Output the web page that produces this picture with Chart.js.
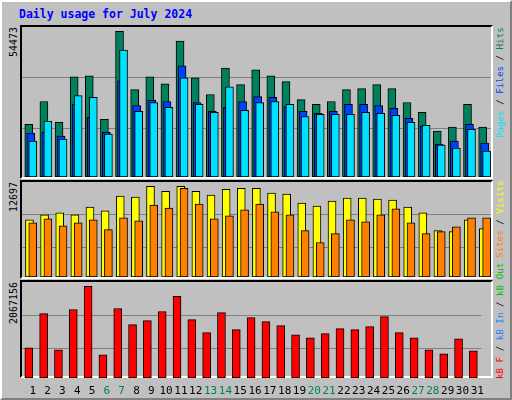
<!DOCTYPE html>
<html><head><meta charset="utf-8">
<script src="https://cdn.jsdelivr.net/npm/chart.js@4"></script>
<style>
body{margin:0;background:#fff}
#frame{position:absolute;left:0;top:0;width:508px;height:396px;background:#c0c0c0;border-left:2px solid #fff;border-top:2px solid #fff;border-right:2px solid #808080;border-bottom:2px solid #808080;}
.panel{position:absolute;left:20px;width:469px;border-top:2px solid #000;border-left:2px solid #000;border-right:2px solid #fff;border-bottom:2px solid #fff;}
canvas{position:absolute}
.t{position:absolute;font-family:"DejaVu Sans Mono",monospace;white-space:nowrap;transform-origin:0 0;transform:rotate(-90deg);}
#title{position:absolute;left:19px;top:7px;font:bold 11.5px "DejaVu Sans Mono",monospace;color:#0000ff}
</style></head><body>
<div id="frame"></div>
<div id="title">Daily usage for July 2024</div>
<div class="panel" style="top:25px;height:150px"></div>
<div class="panel" style="top:180px;height:95px"></div>
<div class="panel" style="top:280px;height:94px"></div>
<canvas id="c1" width="469" height="150" style="left:22px;top:27px"></canvas>
<canvas id="c2" width="469" height="95" style="left:22px;top:182px"></canvas>
<canvas id="c3" width="469" height="120" style="left:22px;top:282px"></canvas>
<div class="t" style="left:8px;top:57px;font-size:10px">54473</div>
<div class="t" style="left:8px;top:212px;font-size:10px">12697</div>
<div class="t" style="left:8px;top:324px;font-size:10px">2067156</div>
<div class="t" style="left:494px;top:138px;font-size:9.2px"><span style="color:#00e0ff">Pages</span> / <span style="color:#0040ff">Files</span> / <span style="color:#00805c">Hits</span></div>
<div class="t" style="left:494px;top:258px;font-size:9.2px"><span style="color:#ff8000">Sites</span> / <span style="color:#ffff00">Visits</span></div>
<div class="t" style="left:494px;top:379px;font-size:9.2px"><span style="color:#ff0000">kB F</span> / <span style="color:#2080ff">kB In</span> / <span style="color:#00c000">kB Out</span></div>
<script>
const days=[1,2,3,4,5,6,7,8,9,10,11,12,13,14,15,16,17,18,19,20,21,22,23,24,25,26,27,28,29,30,31];
const weekend=[6,7,13,14,20,21,27,28];
const hits=[19700,28200,20400,37400,37800,21500,54400,32600,37400,34800,50700,37000,30800,40700,34500,40000,37800,35600,28900,27100,28200,32600,33000,34500,33000,27800,24100,17100,18600,27100,18600];
const files=[16400,16700,15300,27200,22300,16700,35900,26700,28600,28200,41500,27800,24500,26000,28200,30000,29700,26300,24500,23800,24500,27100,27100,26700,25600,21900,19000,12300,13400,19700,12700];
const pages=[13400,20900,14200,30400,29700,16000,47400,24500,27800,26000,37000,27100,24100,33700,24900,27800,28200,27100,22600,23400,23400,23400,24100,23800,23000,20400,19300,11900,10800,17800,9700];
const visits=[8010,8700,8970,8700,9800,9250,11320,11180,12700,12010,12700,12010,11460,12290,12430,12430,11740,11600,10350,9940,10630,11050,11050,10910,10770,9800,8970,6490,6350,8010,6770];
const sites=[7590,8150,7180,7590,8010,6630,8280,7870,10080,9660,12430,10220,8150,8560,9390,10220,9110,8700,6490,4830,6070,8010,7730,8700,9530,7590,6070,6350,7040,8280,8280];
const kbytes=[681000,1453000,636000,1544000,2067156,522000,1567000,1204000,1294000,1499000,1840000,1317000,1022000,1476000,1090000,1362000,1272000,1181000,976000,908000,999000,1113000,1090000,1158000,1385000,1022000,908000,636000,545000,886000,613000];
const W=469, unit=W/31;
function xAxis(px,show){
  const s=px/unit;
  return {type:'linear',min:0.5-s,max:31.5-s,display:show,offset:false,
    grid:{display:false,drawTicks:false},border:{display:false},
    afterFit:a=>{a.height=show?24:0},
    afterBuildTicks:a=>{a.ticks=days.map(d=>({value:d}))},
    ticks:{autoSkip:false,maxRotation:0,padding:7,
      font:{family:'DejaVu Sans Mono',size:11},
      color:c=>weekend.includes(c.tick.value)?'#00805c':'#000',
      callback:v=>String(Math.round(v))}};
}
function yAxis(max,grids){
  return {min:0,max:max,afterFit:a=>{a.width=0},
    afterBuildTicks:a=>{a.ticks=grids.map(f=>({value:f*max}))},
    ticks:{display:false},border:{display:false},
    grid:{color:'#808080',lineWidth:1,drawTicks:false}};
}
function ds(vals,color,axis,order){
  return {data:days.map((d,i)=>({x:d,y:vals[i]})),backgroundColor:color,borderColor:'#000',borderWidth:1,borderSkipped:false,barThickness:8,xAxisID:axis,grouped:false,order:order};
}
function make(id,datasets,scales){
  new Chart(document.getElementById(id),{type:'bar',data:{datasets},
    options:{responsive:false,animation:false,devicePixelRatio:1,layout:{padding:0},
      plugins:{legend:{display:false},tooltip:{enabled:false}},scales}});
}
make('c1',[ds(pages,'#00e0ff','xp',0),ds(files,'#0040ff','xf',1),ds(hits,'#00805c','xh',2)],
  {xh:xAxis(-0.8,false),xf:xAxis(1.2,false),xp:xAxis(3.2,false),y:yAxis(56000,[0.325,0.662])});
make('c2',[ds(sites,'#ff8000','xs',0),ds(visits,'#ffff00','xv',1)],
  {xv:xAxis(-0.1,false),xs:xAxis(3.2,false),y:yAxis(13300,[0.311,0.654])});
make('c3',[ds(kbytes,'#ff0000','xk',0)],
  {xk:xAxis(-0.6,false),xl:xAxis(3.4,true),y:yAxis(2165000,[0.304,0.65])});
</script></body></html>
